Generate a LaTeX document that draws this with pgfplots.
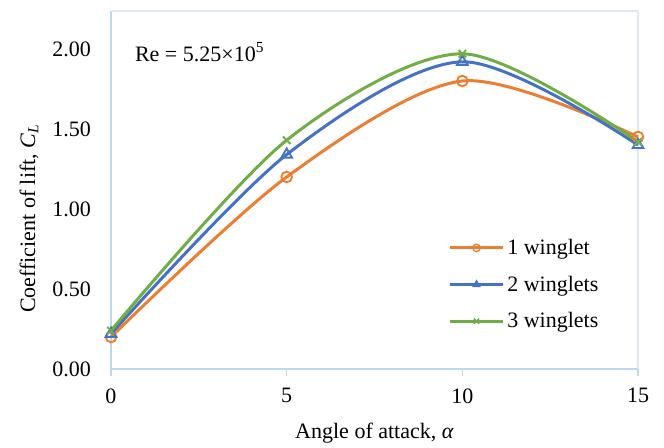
\documentclass[border=0pt]{standalone}
\usepackage{pgfplots}
\pgfplotsset{compat=1.18}
\usepackage{fontspec}
\setmainfont{Liberation Serif}
\definecolor{cOrange}{HTML}{ED7D31}
\definecolor{cBlue}{HTML}{4472C4}
\definecolor{cGreen}{HTML}{70AD47}
\definecolor{axblue}{HTML}{BDD7EE}
\definecolor{axlight}{HTML}{DEEBF7}
\newcommand{\bigf}{\fontsize{16.5}{19}\selectfont}
\begin{document}
\begin{tikzpicture}
\useasboundingbox (-83.25pt,-59.25pt) rectangle (414.75pt,276.75pt);
\begin{axis}[
  scale only axis,
  width=395.25pt, height=268.5pt,
  at={(0,0)}, anchor=south west,
  font=\bigf,
  tick label style={font=\bigf},
  label style={font=\bigf},
  xmin=0, xmax=15, ymin=0, ymax=2.2375,
  axis x line=bottom, axis y line=left,
  axis line style={-, draw=axblue, line width=1.2pt},
  xtick={0,5,10,15}, ytick={0,0.5,1,1.5,2},
  x tick style={draw=axblue, line width=1.2pt},
  xtick align=outside, major tick length=5pt,
  y tick style={draw=none},
  /pgf/number format/assume math mode=true,
  yticklabel style={/pgf/number format/.cd, fixed, fixed zerofill, precision=2},
  xticklabel style={/pgf/number format/.cd, fixed},
  yticklabel shift=9pt, xticklabel shift=6pt,
  xlabel={Angle of attack, \textit{α}},
  ylabel={Coefficient of lift, \textit{C}\textsubscript{\textit{L}}},
  xlabel style={at={(rel axis cs:0.5,0)}, anchor=center, yshift=-48pt},
  ylabel style={at={([xshift=-61.5pt]rel axis cs:0,0.42)}, anchor=center},
  clip=false,
  legend style={draw=none, fill=none, at={(0.632,0.378)}, anchor=north west,
    row sep=10.5pt, font=\bigf},
  legend cell align=left,
  legend image code/.code={\draw[mark repeat=2,mark phase=2, mark size=2.8pt, mark options={line width=1pt}] plot coordinates {(0pt,0pt)(20pt,0pt)(40pt,0pt)};},
]
\draw[axlight, line width=0.8pt] (rel axis cs:0,1) -- (rel axis cs:1,1) -- (rel axis cs:1,0);
\addplot[cOrange, line width=2.25pt, smooth, tension=0.5, mark=o, mark size=4pt,
  mark options={fill=white, line width=1.4pt, solid}]
  coordinates {(0,0.20) (5,1.20) (10,1.80) (15,1.45)};
\addlegendentry{1 winglet}
\addplot[cBlue, line width=2.25pt, smooth, tension=0.5, mark=triangle, mark size=4.6pt,
  mark options={fill=white, line width=1.4pt, solid}]
  coordinates {(0,0.22) (5,1.34) (10,1.92) (15,1.40)};
\addlegendentry{2 winglets}
\addplot[cGreen, line width=2.25pt, smooth, tension=0.5, mark=x, mark size=4pt,
  mark options={line width=1.4pt, solid}]
  coordinates {(0,0.24) (5,1.43) (10,1.97) (15,1.42)};
\addlegendentry{3 winglets}
\node[anchor=west, font=\bigf] at (axis cs:0.55,1.98) {Re = 5.25×10\textsuperscript{5}};
\end{axis}
\end{tikzpicture}
\end{document}
